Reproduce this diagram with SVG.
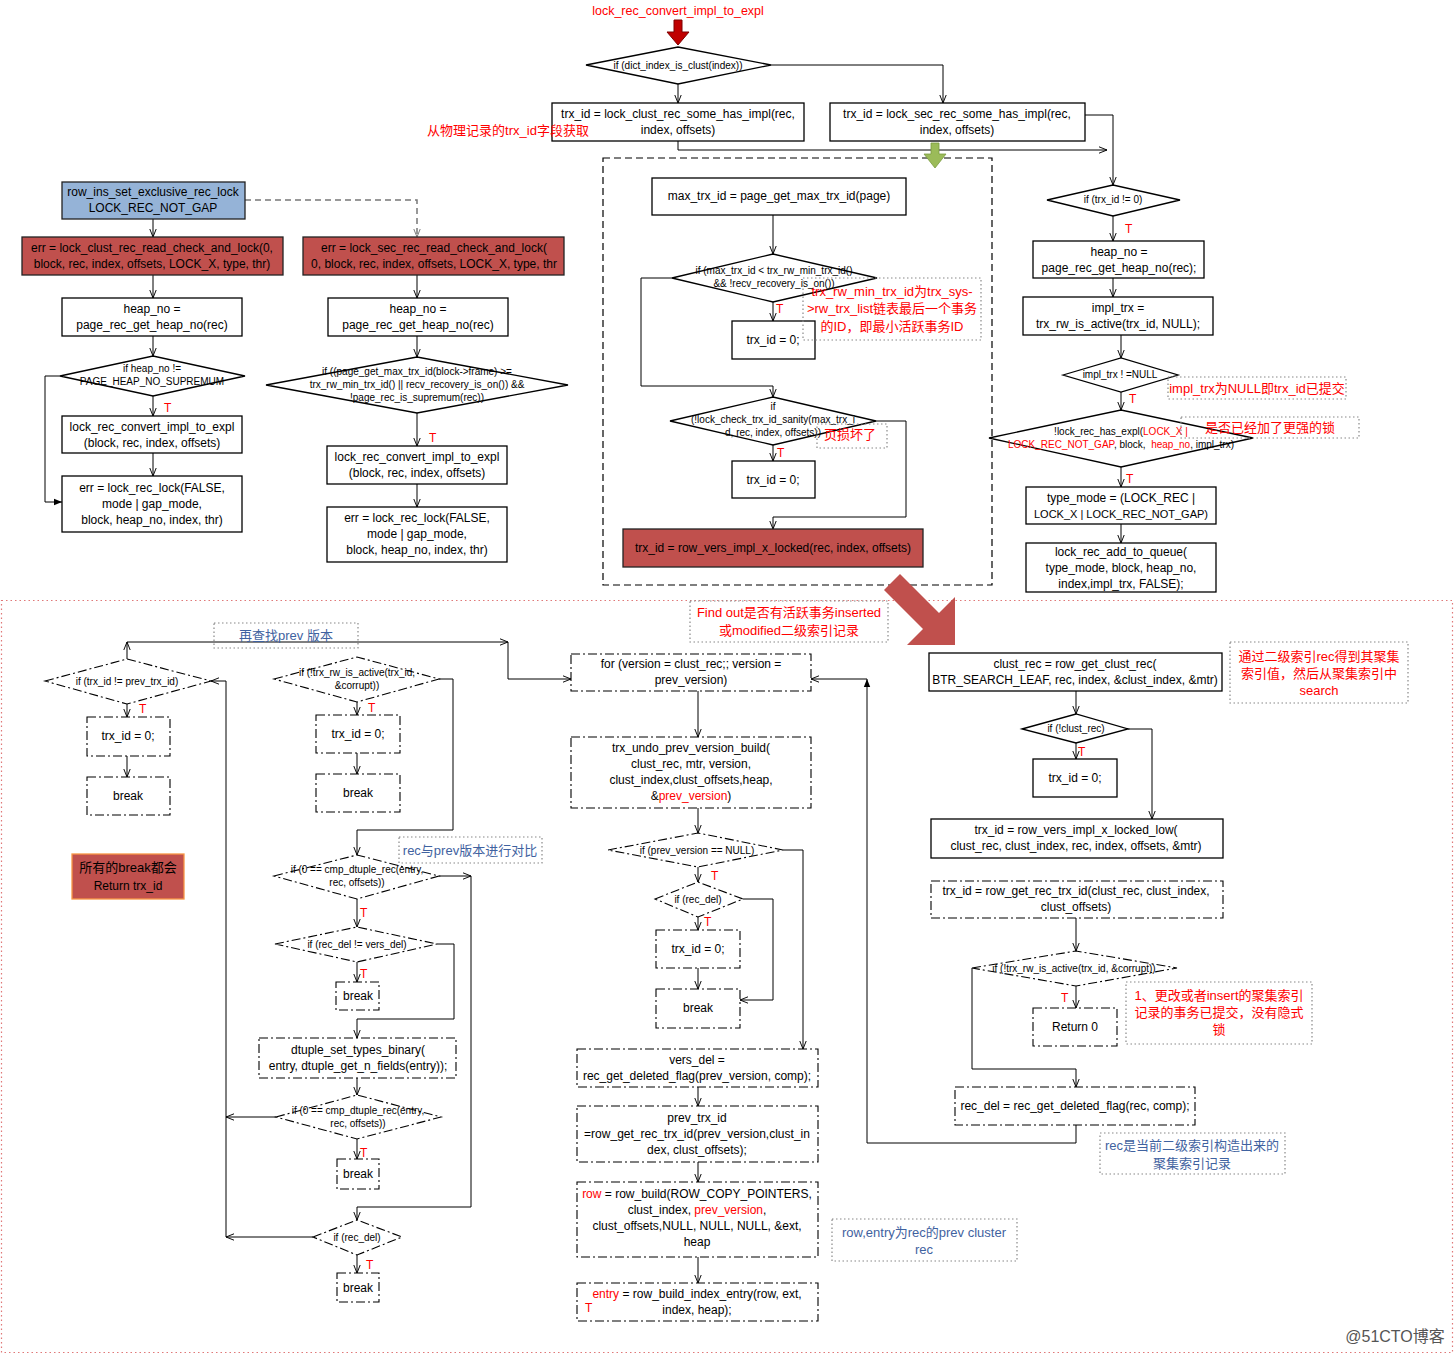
<svg xmlns="http://www.w3.org/2000/svg" width="1454" height="1354" viewBox="0 0 1454 1354">
<defs>
<style>
.n{fill:#fff;stroke:#000;stroke-width:1.3}
.nd{fill:#fff;stroke:#000;stroke-width:1.1;stroke-dasharray:9 3 2 3}
.rb{fill:#c0504d;stroke:#222;stroke-width:1.3}
.bb{fill:#95b3d7;stroke:#222;stroke-width:1.3}
.note{fill:none;stroke:#888;stroke-width:1.2;stroke-dasharray:1.5 2.5}
.t{font-family:"Liberation Sans","Noto Sans CJK SC",sans-serif;font-size:12px;text-anchor:middle;fill:#000}
.s{font-size:10px}
.r{fill:#ff0000}
.bl{fill:#3f62a0}
.cj{font-size:13px}
.c{fill:none;stroke:#000;stroke-width:1;marker-end:url(#a)}
.cf{fill:none;stroke:#000;stroke-width:1;marker-end:url(#f)}
.cg{fill:none;stroke:#777;stroke-width:1.5;stroke-dasharray:6 4;marker-end:url(#g)}
.tl{font-family:"Liberation Sans",sans-serif;font-size:12px;fill:#ff0000}
</style>
<marker id="a" viewBox="0 0 10 10" refX="10" refY="5" markerWidth="8" markerHeight="8" orient="auto" markerUnits="userSpaceOnUse"><path d="M0,1 L10,5 L0,9" fill="none" stroke="#000" stroke-width="1.2"/></marker>
<marker id="f" viewBox="0 0 10 10" refX="10" refY="5" markerWidth="8" markerHeight="8" orient="auto" markerUnits="userSpaceOnUse"><path d="M0,1 L10,5 L0,9 Z" fill="#000"/></marker>
<marker id="g" viewBox="0 0 10 10" refX="10" refY="5" markerWidth="8" markerHeight="8" orient="auto" markerUnits="userSpaceOnUse"><path d="M0,1 L10,5 L0,9" fill="none" stroke="#777" stroke-width="1.2"/></marker>
</defs>
<rect width="1454" height="1354" fill="#fff"/>

<g id="frames">
<rect x="603" y="158" width="389" height="427" fill="none" stroke="#000" stroke-width="1.2" stroke-dasharray="7 4"/>
<rect x="1.5" y="600.5" width="1451" height="752" fill="none" stroke="#e07878" stroke-width="1.2" stroke-dasharray="1.5 3"/>
</g>

<g id="connectors">
<path class="c" d="M678,84 V103"/>
<path class="c" d="M771,65 H943 V103"/>
<path class="c" d="M1085,115 H1113 V185"/>
<path class="c" d="M678,141 V150 H1107"/>
<path class="c" d="M773,215 V254"/>
<path class="c" d="M773,302 V321"/>
<path class="c" d="M672,278 H641 V386 H773 V397"/>
<path class="c" d="M773,445 V461"/>
<path class="c" d="M876,421 H906 V517 H773 V529"/>
<path class="c" d="M1113,216 V241"/>
<path class="c" d="M1113,278 V297"/>
<path class="c" d="M1121,335 V358"/>
<path class="c" d="M1121,392 V410"/>
<path class="c" d="M1121,467 V487"/>
<path class="c" d="M1121,524 V543"/>
<path class="c" d="M153,219 V237"/>
<path class="cg" d="M245,200 H417 V237"/>
<path class="c" d="M153,275 V298"/>
<path class="c" d="M153,336 V356"/>
<path class="cf" d="M60,376 H45 V502 H62"/>
<path class="c" d="M153,396 V416"/>
<path class="c" d="M153,453 V476"/>
<path class="c" d="M417,275 V298"/>
<path class="c" d="M417,336 V357"/>
<path class="c" d="M417,413 V446"/>
<path class="c" d="M417,484 V507"/>

<path class="c" d="M127,659 V642"/>
<path class="c" d="M127,642 H508"/>
<path class="c" d="M508,642 V679 H571"/>
<path class="c" d="M127,704 V717"/>
<path class="c" d="M127,756 V777"/>
<path class="c" d="M226,1237 V681 H211"/>
<path class="c" d="M276,1117 H226"/>
<path class="c" d="M313,1237 H226"/>
<path class="c" d="M357,702 V715"/>
<path class="c" d="M357,753 V774"/>
<path class="c" d="M439,679 H453 V830 H357 V855"/>
<path class="c" d="M439,876 H471"/>
<path class="c" d="M471,876 V1207 H357 V1220"/>
<path class="c" d="M357,899 V927"/>
<path class="c" d="M357,962 V982"/>
<path class="c" d="M437,944 H454 V1019 H357 V1038"/>
<path class="c" d="M357,1078 V1095"/>
<path class="c" d="M357,1139 V1159"/>
<path class="c" d="M357,1255 V1273"/>
<path class="c" d="M698,691 V737"/>
<path class="c" d="M698,808 V833"/>
<path class="c" d="M783,850 H803 V1049"/>
<path class="c" d="M698,867 V882"/>
<path class="c" d="M743,899 H773 V1000 H740"/>
<path class="c" d="M698,917 V930"/>
<path class="c" d="M698,968 V989"/>
<path class="c" d="M698,1087 V1106"/>
<path class="c" d="M698,1162 V1182"/>
<path class="c" d="M698,1257 V1283"/>
<path class="c" d="M1076,691 V714"/>
<path class="c" d="M1128,729 H1152 V819"/>
<path class="c" d="M1076,743 V759"/>
<path class="c" d="M1076,918 V951"/>
<path class="c" d="M1076,986 V1008"/>
<path class="c" d="M972,968 V1069 H1076 V1087"/>
<path class="cf" d="M1076,1125 V1143 H867 V679"/>
<path class="c" d="M867,679 H811"/>
</g>

<g id="title"><text class="t r" x="678" y="15" style="font-size:12.5px">lock_rec_convert_impl_to_expl</text></g>
<g id="start-arrow"><polygon points="674,20 682,20 682,32 689,32 678,45 667,32 674,32" fill="#c00000" stroke="#7f0000"/></g>
<g id="d-clust"><polygon class="n" points="586,65 678,47 771,65 678,84"/><text class="t s" x="678" y="69">if (dict_index_is_clust(index))</text></g>
<g id="b-clust-impl"><rect class="n" x="552" y="103" width="252" height="38"/><text class="t" x="678" y="118">trx_id = lock_clust_rec_some_has_impl(rec,</text><text class="t" x="678" y="134">index, offsets)</text></g>
<g id="b-sec-impl"><rect class="n" x="830" y="103" width="255" height="38"/><text class="t" x="957" y="118">trx_id = lock_sec_rec_some_has_impl(rec,</text><text class="t" x="957" y="134">index, offsets)</text></g>
<g id="note-phys"><text class="t r cj" x="508" y="135">从物理记录的trx_id字段获取</text></g>
<g id="green-arrow"><polygon points="931,143 939,143 939,154 946,154 935,168 924,154 931,154" fill="#9bbb59" stroke="#7a9a40" stroke-width="0.8"/></g>

<g id="b-maxtrx"><rect class="n" x="652" y="178" width="254" height="37"/><text class="t" x="779" y="200">max_trx_id = page_get_max_trx_id(page)</text></g>
<g id="d-maxtrx"><polygon class="n" points="672,278 773,254 877,278 773,302"/><text class="t s" x="774" y="274">if (max_trx_id &lt; trx_rw_min_trx_id()</text><text class="t s" x="774" y="287">&amp;&amp; !recv_recovery_is_on())</text></g>
<g id="b-trx0-a"><rect class="n" x="732" y="321" width="83" height="38"/><text class="t" x="773" y="344">trx_id = 0;</text></g>
<g id="note-minid"><rect class="note" x="803" y="278" width="178" height="62"/><text class="t r cj" x="892" y="296">trx_rw_min_trx_id为trx_sys-</text><text class="t r cj" x="892" y="313">&gt;rw_trx_list链表最后一个事务</text><text class="t r cj" x="892" y="331">的ID，即最小活跃事务ID</text></g>
<g id="d-sanity"><polygon class="n" points="670,421 773,397 876,421 773,445"/><text class="t s" x="773" y="410">if</text><text class="t s" x="773" y="423">(!lock_check_trx_id_sanity(max_trx_i</text><text class="t s" x="773" y="436">d, rec, index, offsets))</text></g>
<g id="note-page"><rect class="note" x="817" y="424" width="70" height="24"/><text class="t r cj" x="850" y="439">页损坏了</text></g>
<g id="b-trx0-b"><rect class="n" x="732" y="461" width="83" height="37"/><text class="t" x="773" y="484">trx_id = 0;</text></g>
<g id="b-vers-impl"><rect class="rb" x="623" y="529" width="300" height="38"/><text class="t" x="773" y="552">trx_id = row_vers_impl_x_locked(rec, index, offsets)</text></g>
<g id="big-arrow"><polygon points="900,574 939,613 955,597 955,645 907,645 923,629 884,590" fill="#c0504d"/></g>

<g id="d-trx-ne0"><polygon class="n" points="1047,200 1113,185 1180,200 1113,216"/><text class="t s" x="1113" y="203">if (trx_id != 0)</text></g>
<g id="b-heap-r"><rect class="n" x="1033" y="241" width="171" height="37"/><text class="t" x="1119" y="256">heap_no =</text><text class="t" x="1119" y="272">page_rec_get_heap_no(rec);</text></g>
<g id="b-impltrx"><rect class="n" x="1023" y="297" width="190" height="38"/><text class="t" x="1118" y="312">impl_trx =</text><text class="t" x="1118" y="328">trx_rw_is_active(trx_id, NULL);</text></g>
<g id="d-impl-null"><polygon class="n" points="1063,375 1121,358 1178,375 1121,392"/><text class="t s" x="1120" y="378">impl_trx ! =NULL</text></g>
<g id="note-null"><rect class="note" x="1168" y="377" width="178" height="22"/><text class="t r cj" x="1257" y="393">impl_trx为NULL即trx_id已提交</text></g>
<g id="d-hasexpl"><polygon class="n" points="989,438 1121,410 1253,438 1121,467"/><text class="t s" x="1121" y="435">!lock_rec_has_expl(<tspan class="r">LOCK_X |</tspan></text><text class="t s" x="1121" y="448" xml:space="preserve"><tspan class="r">LOCK_REC_NOT_GAP</tspan>, block,  <tspan class="r">heap_no</tspan>, impl_trx)</text></g>
<g id="note-stronger"><rect class="note" x="1181" y="417" width="178" height="21"/><text class="t r cj" x="1270" y="432">是否已经加了更强的锁</text></g>
<g id="b-typemode"><rect class="n" x="1026" y="487" width="190" height="37"/><text class="t" x="1121" y="502">type_mode = (LOCK_REC |</text><text class="t" x="1121" y="518" style="font-size:11px">LOCK_X | LOCK_REC_NOT_GAP)</text></g>
<g id="b-addqueue"><rect class="n" x="1026" y="543" width="190" height="49"/><text class="t" x="1121" y="556">lock_rec_add_to_queue(</text><text class="t" x="1121" y="572">type_mode, block, heap_no,</text><text class="t" x="1121" y="588">index,impl_trx, FALSE);</text></g>

<g id="b-row-ins"><rect class="bb" x="62" y="182" width="183" height="37"/><text class="t" x="153" y="196">row_ins_set_exclusive_rec_lock</text><text class="t" x="153" y="212">LOCK_REC_NOT_GAP</text></g>
<g id="b-clust-check"><rect class="rb" x="22" y="237" width="261" height="38"/><text class="t" x="152" y="252">err = lock_clust_rec_read_check_and_lock(0,</text><text class="t" x="152" y="268">block, rec, index, offsets, LOCK_X, type, thr)</text></g>
<g id="b-sec-check"><rect class="rb" x="303" y="237" width="261" height="38"/><text class="t" x="434" y="252">err = lock_sec_rec_read_check_and_lock(</text><text class="t" x="434" y="268">0, block, rec, index, offsets, LOCK_X, type, thr</text></g>
<g id="b-heap-l1"><rect class="n" x="62" y="298" width="180" height="38"/><text class="t" x="152" y="313">heap_no =</text><text class="t" x="152" y="329">page_rec_get_heap_no(rec)</text></g>
<g id="d-supremum"><polygon class="n" points="60,376 153,356 245,376 153,396"/><text class="t s" x="152" y="372">if heap_no !=</text><text class="t s" x="152" y="385">PAGE_HEAP_NO_SUPREMUM</text></g>
<g id="b-convert-l1"><rect class="n" x="62" y="416" width="180" height="37"/><text class="t" x="152" y="431">lock_rec_convert_impl_to_expl</text><text class="t" x="152" y="447">(block, rec, index, offsets)</text></g>
<g id="b-lock-l1"><rect class="n" x="62" y="476" width="180" height="56"/><text class="t" x="152" y="492">err = lock_rec_lock(FALSE,</text><text class="t" x="152" y="508">mode | gap_mode,</text><text class="t" x="152" y="524">block, heap_no, index, thr)</text></g>
<g id="b-heap-l2"><rect class="n" x="328" y="298" width="180" height="38"/><text class="t" x="418" y="313">heap_no =</text><text class="t" x="418" y="329">page_rec_get_heap_no(rec)</text></g>
<g id="d-maxpage"><polygon class="n" points="266,385 417,357 568,385 417,413"/><text class="t s" x="417" y="375">if ((page_get_max_trx_id(block-&gt;frame) &gt;=</text><text class="t s" x="417" y="388">trx_rw_min_trx_id() || recv_recovery_is_on()) &amp;&amp;</text><text class="t s" x="417" y="401">!page_rec_is_supremum(rec))</text></g>
<g id="b-convert-l2"><rect class="n" x="327" y="446" width="180" height="38"/><text class="t" x="417" y="461">lock_rec_convert_impl_to_expl</text><text class="t" x="417" y="477">(block, rec, index, offsets)</text></g>
<g id="b-lock-l2"><rect class="n" x="327" y="507" width="180" height="55"/><text class="t" x="417" y="522">err = lock_rec_lock(FALSE,</text><text class="t" x="417" y="538">mode | gap_mode,</text><text class="t" x="417" y="554">block, heap_no, index, thr)</text></g>

<g id="t-labels">
<text class="tl" x="776" y="313">T</text>
<text class="tl" x="777" y="457">T</text>
<text class="tl" x="1125" y="233">T</text>
<text class="tl" x="1129" y="403">T</text>
<text class="tl" x="1126" y="483">T</text>
<text class="tl" x="164" y="412">T</text>
<text class="tl" x="429" y="442">T</text>
<text class="tl" x="139" y="713">T</text>
<text class="tl" x="368" y="712">T</text>
<text class="tl" x="360" y="917">T</text>
<text class="tl" x="360" y="978">T</text>
<text class="tl" x="360" y="1157">T</text>
<text class="tl" x="366" y="1269">T</text>
<text class="tl" x="711" y="880">T</text>
<text class="tl" x="704" y="926">T</text>
<text class="tl" x="1078" y="756">T</text>
<text class="tl" x="1061" y="1002">T</text>
</g>

<g id="note-prev"><rect class="note" x="214" y="623" width="144" height="25"/><text class="t bl cj" x="286" y="640">再查找prev 版本</text></g>
<g id="d-prevtrx"><polygon class="nd" points="45,681 127,659 211,681 127,704"/><text class="t s" x="127" y="685">if (trx_id != prev_trx_id)</text></g>
<g id="b-trx0-c"><rect class="nd" x="87" y="717" width="83" height="39"/><text class="t" x="128" y="740">trx_id = 0;</text></g>
<g id="b-break-1"><rect class="nd" x="87" y="777" width="83" height="38"/><text class="t" x="128" y="800">break</text></g>
<g id="b-return"><rect x="72" y="854" width="112" height="45" fill="#c0504d" stroke="#f79646" stroke-width="1.3"/><text class="t cj" x="128" y="872" fill="#222">所有的break都会</text><text class="t" x="128" y="890" fill="#222">Return trx_id</text></g>
<g id="d-active-1"><polygon class="nd" points="274,679 357,657 439,679 357,702"/><text class="t s" x="357" y="676">if (!trx_rw_is_active(trx_id,</text><text class="t s" x="357" y="689">&amp;corrupt))</text></g>
<g id="b-trx0-d"><rect class="nd" x="316" y="715" width="84" height="38"/><text class="t" x="358" y="738">trx_id = 0;</text></g>
<g id="b-break-2"><rect class="nd" x="316" y="774" width="84" height="38"/><text class="t" x="358" y="797">break</text></g>
<g id="note-compare"><rect class="note" x="399" y="837" width="143" height="26"/><text class="t bl cj" x="470" y="855">rec与prev版本进行对比</text></g>
<g id="d-cmp-1"><polygon class="nd" points="274,876 357,855 439,876 357,899"/><text class="t s" x="357" y="873">if (0 == cmp_dtuple_rec(entry,</text><text class="t s" x="357" y="886">rec, offsets))</text></g>
<g id="d-vers-del"><polygon class="nd" points="275,944 357,927 437,944 357,962"/><text class="t s" x="357" y="948">if (rec_del != vers_del)</text></g>
<g id="b-break-3"><rect class="nd" x="336" y="982" width="43" height="28"/><text class="t" x="358" y="1000">break</text></g>
<g id="b-dtuple"><rect class="nd" x="259" y="1038" width="197" height="40"/><text class="t" x="358" y="1054">dtuple_set_types_binary(</text><text class="t" x="358" y="1070">entry, dtuple_get_n_fields(entry));</text></g>
<g id="d-cmp-2"><polygon class="nd" points="276,1117 357,1095 441,1117 357,1139"/><text class="t s" x="358" y="1114">if (0 == cmp_dtuple_rec(entry,</text><text class="t s" x="358" y="1127">rec, offsets))</text></g>
<g id="b-break-4"><rect class="nd" x="337" y="1159" width="42" height="30"/><text class="t" x="358" y="1178">break</text></g>
<g id="d-recdel-1"><polygon class="nd" points="313,1237 357,1220 402,1237 357,1255"/><text class="t s" x="357" y="1241">if (rec_del)</text></g>
<g id="b-break-5"><rect class="nd" x="337" y="1273" width="42" height="29"/><text class="t" x="358" y="1292">break</text></g>

<g id="note-findout"><rect class="note" x="690" y="601" width="198" height="41"/><text class="t r cj" x="789" y="617">Find out是否有活跃事务inserted</text><text class="t r cj" x="789" y="635">或modified二级索引记录</text></g>
<g id="b-for"><rect class="nd" x="571" y="654" width="240" height="37"/><text class="t" x="691" y="668">for (version = clust_rec;; version =</text><text class="t" x="691" y="684">prev_version)</text></g>
<g id="b-undo"><rect class="nd" x="571" y="737" width="240" height="71"/><text class="t" x="691" y="752">trx_undo_prev_version_build(</text><text class="t" x="691" y="768">clust_rec, mtr, version,</text><text class="t" x="691" y="784">clust_index,clust_offsets,heap,</text><text class="t" x="691" y="800">&amp;<tspan class="r">prev_version</tspan>)</text></g>
<g id="d-prevnull"><polygon class="nd" points="608,850 698,833 783,850 698,867"/><text class="t s" x="697" y="854">if (prev_version == NULL)</text></g>
<g id="d-recdel-2"><polygon class="nd" points="655,899 698,882 743,899 698,917"/><text class="t s" x="698" y="903">if (rec_del)</text></g>
<g id="b-trx0-e"><rect class="nd" x="656" y="930" width="84" height="38"/><text class="t" x="698" y="953">trx_id = 0;</text></g>
<g id="b-break-6"><rect class="nd" x="656" y="989" width="84" height="39"/><text class="t" x="698" y="1012">break</text></g>
<g id="b-versdel"><rect class="nd" x="577" y="1049" width="241" height="38"/><text class="t" x="697" y="1064">vers_del =</text><text class="t" x="697" y="1080">rec_get_deleted_flag(prev_version, comp);</text></g>
<g id="b-prevtrx"><rect class="nd" x="577" y="1106" width="241" height="56"/><text class="t" x="697" y="1122">prev_trx_id</text><text class="t" x="697" y="1138">=row_get_rec_trx_id(prev_version,clust_in</text><text class="t" x="697" y="1154">dex, clust_offsets);</text></g>
<g id="b-rowbuild"><rect class="nd" x="577" y="1182" width="241" height="75"/><text class="t" x="697" y="1198"><tspan class="r">row</tspan> = row_build(ROW_COPY_POINTERS,</text><text class="t" x="697" y="1214">clust_index, <tspan class="r">prev_version</tspan>,</text><text class="t" x="697" y="1230">clust_offsets,NULL, NULL, NULL, &amp;ext,</text><text class="t" x="697" y="1246">heap</text></g>
<g id="b-entry"><rect class="nd" x="577" y="1283" width="241" height="38"/><text class="t" x="697" y="1298"><tspan class="r">entry</tspan> = row_build_index_entry(row, ext,</text><text class="t" x="697" y="1314">index, heap);</text><text class="tl" x="585" y="1312">T</text></g>
<g id="note-rowentry"><rect class="note" x="832" y="1219" width="185" height="42"/><text class="t bl cj" x="924" y="1237">row,entry为rec的prev cluster</text><text class="t bl cj" x="924" y="1254">rec</text></g>

<g id="b-clustrec"><rect class="n" x="929" y="653" width="293" height="38"/><text class="t" x="1075" y="668">clust_rec = row_get_clust_rec(</text><text class="t" x="1075" y="684">BTR_SEARCH_LEAF, rec, index, &amp;clust_index, &amp;mtr)</text></g>
<g id="note-search"><rect class="note" x="1230" y="642" width="178" height="61"/><text class="t r cj" x="1319" y="661">通过二级索引rec得到其聚集</text><text class="t r cj" x="1319" y="678">索引值，然后从聚集索引中</text><text class="t r cj" x="1319" y="695">search</text></g>
<g id="d-clustnull"><polygon class="n" points="1022,729 1076,714 1128,729 1076,743"/><text class="t s" x="1076" y="732">if (!clust_rec)</text></g>
<g id="b-trx0-f"><rect class="n" x="1033" y="759" width="84" height="38"/><text class="t" x="1075" y="782">trx_id = 0;</text></g>
<g id="b-xlocked-low"><rect class="n" x="931" y="819" width="292" height="39"/><text class="t" x="1076" y="834">trx_id = row_vers_impl_x_locked_low(</text><text class="t" x="1076" y="850">clust_rec, clust_index, rec, index, offsets, &amp;mtr)</text></g>
<g id="b-getrectrx"><rect class="nd" x="931" y="881" width="292" height="37"/><text class="t" x="1076" y="895">trx_id = row_get_rec_trx_id(clust_rec, clust_index,</text><text class="t" x="1076" y="911">clust_offsets)</text></g>
<g id="d-active-2"><polygon class="nd" points="972,968 1076,951 1177,968 1076,986"/><text class="t s" x="1074" y="972">if (!trx_rw_is_active(trx_id, &amp;corrupt))</text></g>
<g id="b-return0"><rect class="nd" x="1033" y="1008" width="84" height="38"/><text class="t" x="1075" y="1031">Return 0</text></g>
<g id="note-committed"><rect class="note" x="1126" y="982" width="186" height="62"/><text class="t r cj" x="1219" y="1000">1、更改或者insert的聚集索引</text><text class="t r cj" x="1219" y="1017">记录的事务已提交，没有隐式</text><text class="t r cj" x="1219" y="1034">锁</text></g>
<g id="b-recdel"><rect class="nd" x="955" y="1087" width="240" height="38"/><text class="t" x="1075" y="1110">rec_del = rec_get_deleted_flag(rec, comp);</text></g>
<g id="note-rec"><rect class="note" x="1100" y="1133" width="185" height="41"/><text class="t bl cj" x="1192" y="1150">rec是当前二级索引构造出来的</text><text class="t bl cj" x="1192" y="1168">聚集索引记录</text></g>
<g id="watermark"><text class="t" x="1395" y="1342" style="font-size:16px;fill:#555">@51CTO博客</text></g>
</svg>
